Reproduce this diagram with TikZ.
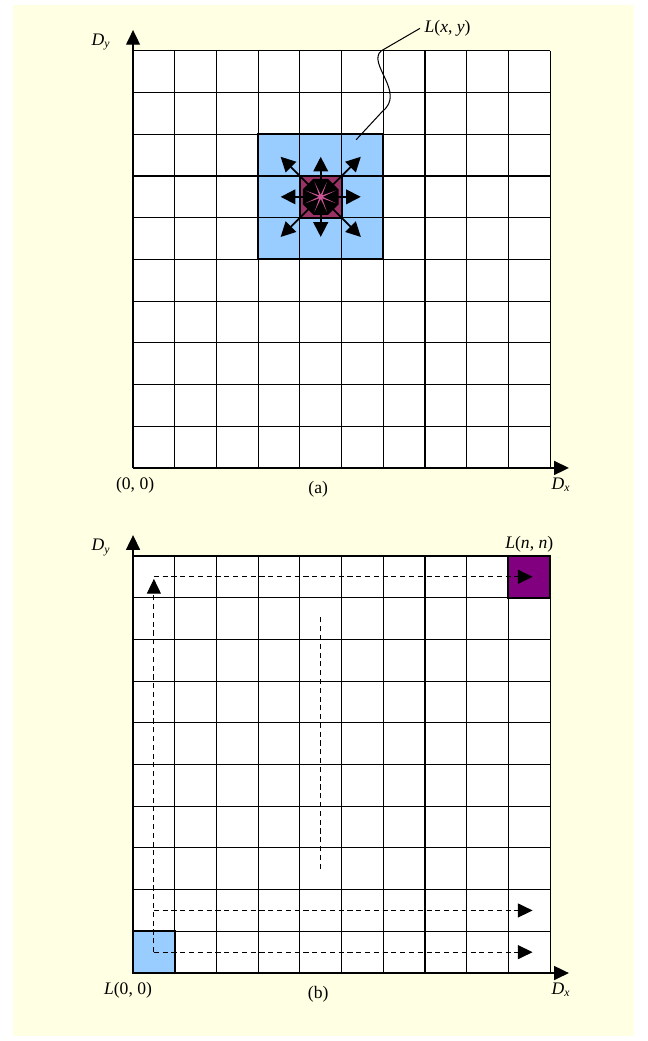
\documentclass[tikz,border=0pt]{standalone}
\usepackage{fontspec}
\setmainfont{Liberation Serif}
\usetikzlibrary{arrows.meta,shapes.geometric}
\definecolor{paper}{RGB}{255,255,228}
\definecolor{cellblue}{RGB}{153,204,255}
\definecolor{cellred}{RGB}{153,51,102}
\definecolor{starpink}{RGB}{204,84,150}
\definecolor{cellpurple}{RGB}{128,0,128}
\begin{document}
\begin{tikzpicture}[x=1cm,y=1cm,>={Triangle[length=10pt,width=9.5pt]},
  font=\fontsize{12}{14}\selectfont,
  gridline/.style={line width=0.75pt},
  boxline/.style={line width=1.3pt},
  axisline/.style={line width=0.8pt},
  dashline/.style={line width=0.7pt,dash pattern=on 3.5pt off 2.5pt}]
   \useasboundingbox (-3.19,-13.74) rectangle (12.33,11.22);
   \fill[paper] (-2.88,-13.62) rectangle (12.01,11.10);
   %%% (a)
   %cells
   \fill[white] (0,0) rectangle (10,10);
   \fill[cellblue] (3,5) rectangle (6,8);
   \fill[cellred] (4,6) rectangle (5,7);
   %grid
   \draw[gridline] (0,0) grid (10,10);
   \draw[boxline] (3,5) rectangle (6,8);
   \draw[boxline] (4,6) rectangle (5,7);
   %axis
   \coordinate (oa) at (0,0);
   \coordinate (ya) at (0,10.5);
   \coordinate (xa) at (10.45,0);
   \draw[axisline,->] (oa) -- (ya);
   \draw[axisline,->] (oa) -- (xa);
   \node (dya) at (-0.77,10.21) {\textit{D}\textsubscript{\textit{y}}};
   \node (dxa) at (10.26,-0.4) {\textit{D}\textsubscript{\textit{x}}};
   \node (ooa) at (0.05,-0.42) {(0, 0)};
   \node (capa) at (4.44,-0.5) {(a)};
   %neighbours
   \coordinate (ctr) at (4.5,6.5);
   \foreach \a/\r in {0/0.96,45/1.36,90/0.96,135/1.36,180/0.96,225/1.36,270/0.96,315/1.36}
     \draw[line width=1.2pt,-{Triangle[length=10pt,width=10pt]}] (ctr) -- ++(\a:\r);
   \node[regular polygon,regular polygon sides=8,fill=black,minimum size=0.93cm,inner sep=0pt] (hub) at (ctr) {};
   \fill[starpink,shift={(4.5,6.5)}] (22.5:0.39) \foreach \k in {1,...,7} {-- (45*\k:0.05) -- (45*\k+22.5:0.39)} -- (0:0.05) -- cycle;
   %label
   \coordinate (lstart) at (5.35,7.87);
   \node[anchor=west,inner sep=3pt] (lxy) at (6.88,10.54) {\textit{L}(\textit{x}, \textit{y})};
   \draw[line width=0.7pt] (lstart) -- (5.98,8.55) .. controls (6.55,9.0) and (5.6,9.7) .. (5.95,10.0) -- (lxy.west);
   %%% (b)
   \begin{scope}[yshift=-12.11cm]
   %cells
   \fill[white] (0,0) rectangle (10,10);
   \fill[cellblue] (0,0) rectangle (1,1);
   \fill[cellpurple] (9,9) rectangle (10,10);
   %grid
   \draw[gridline] (0,0) grid (10,10);
   \draw[boxline] (0,0) rectangle (1,1);
   \draw[boxline] (9,9) rectangle (10,10);
   %axis
   \coordinate (ob) at (0,0);
   \coordinate (yb) at (0,10.5);
   \coordinate (xb) at (10.45,0);
   \draw[axisline,->] (ob) -- (yb);
   \draw[axisline,->] (ob) -- (xb);
   \node (dyb) at (-0.77,10.21) {\textit{D}\textsubscript{\textit{y}}};
   \node (dxb) at (10.26,-0.4) {\textit{D}\textsubscript{\textit{x}}};
   \node (l00) at (-0.12,-0.42) {\textit{L}(0, 0)};
   \node (lnn) at (9.5,10.27) {\textit{L}(\textit{n}, \textit{n})};
   \node (capb) at (4.44,-0.5) {(b)};
   %scan
   \coordinate (s0) at (0.5,0.5);
   \coordinate (s1) at (0.5,1.5);
   \coordinate (s9) at (0.5,9.5);
   \coordinate (sup) at (0.5,9.45);
   \coordinate (e0) at (9.58,0.5);
   \coordinate (e1) at (9.58,1.5);
   \coordinate (e9) at (9.58,9.5);
   \coordinate (m0) at (4.5,2.5);
   \coordinate (m1) at (4.5,8.6);
   \draw[dashline,->] (s0) -- (sup);
   \draw[dashline,->] (s9) -- (e9);
   \draw[dashline,->] (s0) -- (e0);
   \draw[dashline,->] (s1) -- (e1);
   \draw[dashline] (m0) -- (m1);
   \end{scope}
\end{tikzpicture}
\end{document}
